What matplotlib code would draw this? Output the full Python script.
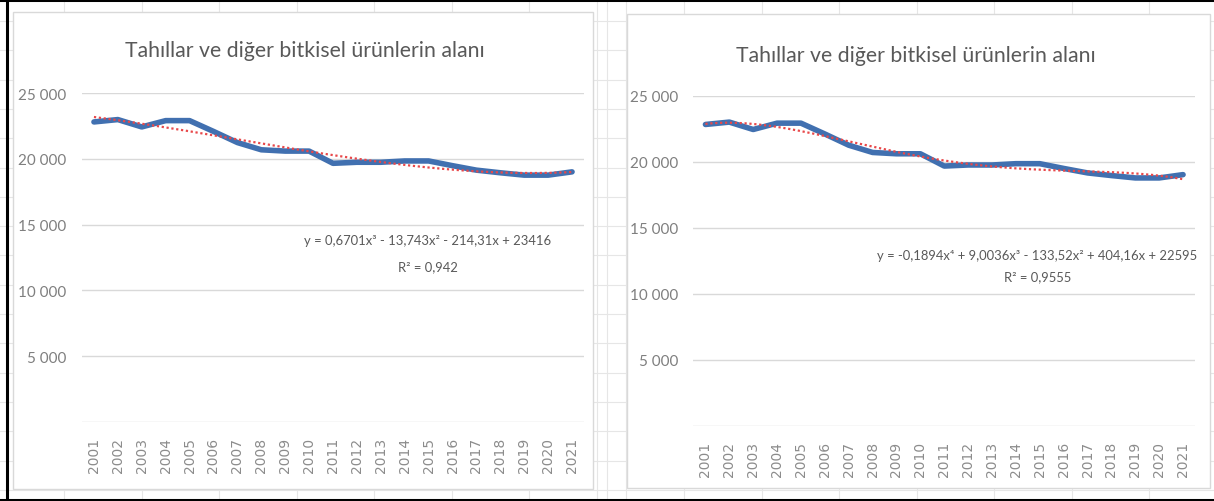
import numpy as np
import matplotlib
matplotlib.use("Agg")
import matplotlib.pyplot as plt
from matplotlib.patches import Rectangle

# ---------------- data ----------------
years = [str(y) for y in range(2001, 2022)]
area = [22820, 23000, 22440, 22920, 22920, 22100, 21250, 20700, 20600, 20600,
        19670, 19750, 19750, 19850, 19850, 19490, 19150, 18950, 18770, 18770, 19020]
title = "Tahıllar ve diğer bitkisel ürünlerin alanı"
yticks = [0, 5000, 10000, 15000, 20000, 25000]
ytick_labels = ["", "5 000", "10 000", "15 000", "20 000", "25 000"]
eq_left = "y = 0,6701x³ - 13,743x² - 214,31x + 23416"
r2_left = "R² = 0,942"
eq_right = "y = -0,1894x⁴ + 9,0036x³ - 133,52x² + 404,16x + 22595"
r2_right = "R² = 0,9555"
poly_degree = [3, 4]

W, H = 1214, 502
fig = plt.figure(figsize=(W / 100, H / 100), dpi=100)
fig.patch.set_facecolor("white")

FONT = ["Lato", "DejaVu Sans"]

def rect(x0, y0, x1, y1):
    return [x0 / W, 1 - y1 / H, (x1 - x0) / W, (y1 - y0) / H]

# ---------------- spreadsheet background ----------------
bg = fig.add_axes([0, 0, 1, 1])
bg.set_xlim(0, W)
bg.set_ylim(H, 0)
bg.axis("off")
cell_c = "#E6E6E6"
for k in range(-1, 17):
    y = 22 + 29.3 * k
    bg.plot([0, W], [y, y], color=cell_c, lw=0.8, zorder=0)
for k in range(-1, 16):
    x = 64 + 77.5 * k
    bg.plot([x, x], [0, H], color=cell_c, lw=0.8, zorder=0)
for x in (597, 626):
    bg.plot([x, x], [0, H], color=cell_c, lw=0.8, zorder=0)

# chart areas
for (x0, y0, x1, y1) in [(13, 13, 593, 490), (627, 15, 1210, 489)]:
    bg.add_patch(Rectangle((x0, y0), x1 - x0, y1 - y0, facecolor="white",
                           edgecolor="#D9D9D9", lw=1.0, zorder=1))

# black frame (top, left, bottom)
bg.plot([0, W], [1.2, 1.2], color="black", lw=2.2, zorder=5)
bg.plot([6.5, 6.5], [0, H], color="black", lw=2.2, zorder=5)
bg.plot([0, W], [500.5, 500.5], color="black", lw=2.2, zorder=5)

# ---------------- charts ----------------
def draw_chart(box, deg, eq, r2, title_xy, eq_xy, r2_xy):
    ax = fig.add_axes(rect(*box))
    x = np.arange(len(years))
    ax.set_xlim(-0.5, len(years) - 0.5)
    ax.set_ylim(0, 25000)
    ax.set_facecolor("none")
    for s in ax.spines.values():
        s.set_visible(False)
    ax.set_yticks(yticks)
    ax.set_yticklabels(ytick_labels, family=FONT, fontsize=11, color="#7F7F7F")
    ax.set_xticks(x)
    ax.set_xticklabels(years, rotation=90, family="DejaVu Sans", fontsize=10,
                       color="#8C8C8C")
    ax.tick_params(axis="y", length=0, pad=11)
    ax.tick_params(axis="x", length=0, pad=11)
    ax.grid(axis="y", color="#D9D9D9", lw=1.0)
    ax.set_axisbelow(True)

    ax.plot(x, area, color="#4170B0", lw=4.0, solid_joinstyle="round",
            solid_capstyle="round", zorder=3)
    xn = np.arange(1, len(years) + 1)
    coef = np.polyfit(xn, area, deg)
    xs = np.linspace(1, len(years), 200)
    ax.plot(xs - 1, np.polyval(coef, xs), color="#E8484A", lw=1.6,
            linestyle=(0, (1, 1.2)), zorder=4)

    bg.text(title_xy[0], title_xy[1], title, family=FONT, fontsize=15.3,
            color="#595959", ha="center", va="center", zorder=6)
    bg.text(eq_xy[0], eq_xy[1], eq, family=FONT, fontsize=9.4,
            color="#595959", ha="center", va="center", zorder=6)
    bg.text(r2_xy[0], r2_xy[1], r2, family=FONT, fontsize=9.4,
            color="#595959", ha="center", va="center", zorder=6)
    return ax

draw_chart((82, 94.3, 584, 422.7), poly_degree[0], eq_left, r2_left,
           (305, 51), (428, 241), (428, 267))
draw_chart((693.5, 96.7, 1195, 426.7), poly_degree[1], eq_right, r2_right,
           (916, 56), (1037, 256), (1038, 277))

fig.savefig("out.png", dpi=100)
